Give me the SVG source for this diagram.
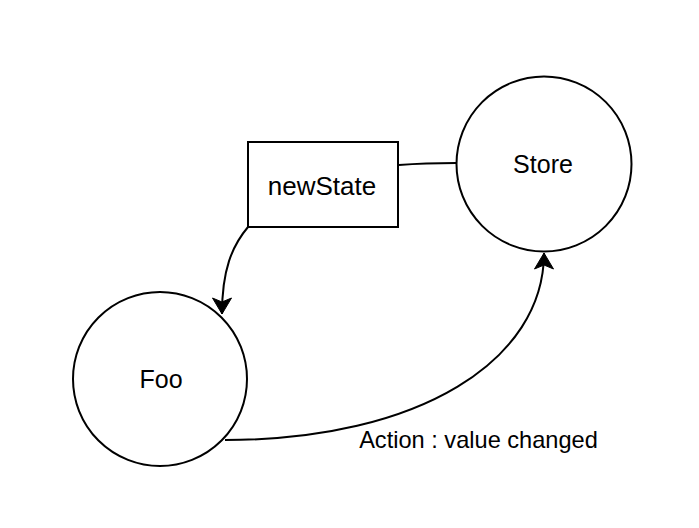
<svg xmlns="http://www.w3.org/2000/svg" width="699" height="528" viewBox="0 0 699 528">
<style>
.shape{fill:#fff;stroke:#000;stroke-width:2}
.edge{fill:none;stroke:#000;stroke-width:2}
.lbl{font-family:"Liberation Sans",Arial,sans-serif;font-size:25px;fill:#000;text-anchor:middle}
.elbl{font-family:"Liberation Sans",Arial,sans-serif;font-size:23.6px;fill:#000;text-anchor:middle}
</style>
<defs>
<marker id="arr" viewBox="0 0 20 20" refX="17" refY="10" markerWidth="20" markerHeight="20" markerUnits="userSpaceOnUse" orient="auto">
<path d="M1,0.5 L17,10 L1,19.5 L5,10 Z" fill="#000" stroke="#000" stroke-width="1"/>
</marker>
</defs>
<rect width="699" height="528" fill="#fff"/>
<g id="connectors">
<path class="edge" d="M456,163 C430,163 412,164 399,165"/>
<path class="edge" d="M248,227 C232,246 222,270 222,314" marker-end="url(#arr)"/>
<path class="edge" d="M225,440 C420,440 544,360 544,253" marker-end="url(#arr)"/>
<rect x="357" y="428" width="243" height="26" fill="#fff"/>
<text class="elbl" x="478.5" y="448">Action : value changed</text>
</g>
<g id="store">
<circle class="shape" cx="544" cy="164" r="87.5"/>
<text class="lbl" x="543" y="173">Store</text>
</g>
<g id="newState">
<rect class="shape" x="248" y="142" width="150" height="85"/>
<text class="lbl" x="322" y="195" style="font-size:26px">newState</text>
</g>
<g id="foo">
<circle class="shape" cx="160" cy="379" r="87"/>
<text class="lbl" x="161" y="388">Foo</text>
</g>
</svg>
